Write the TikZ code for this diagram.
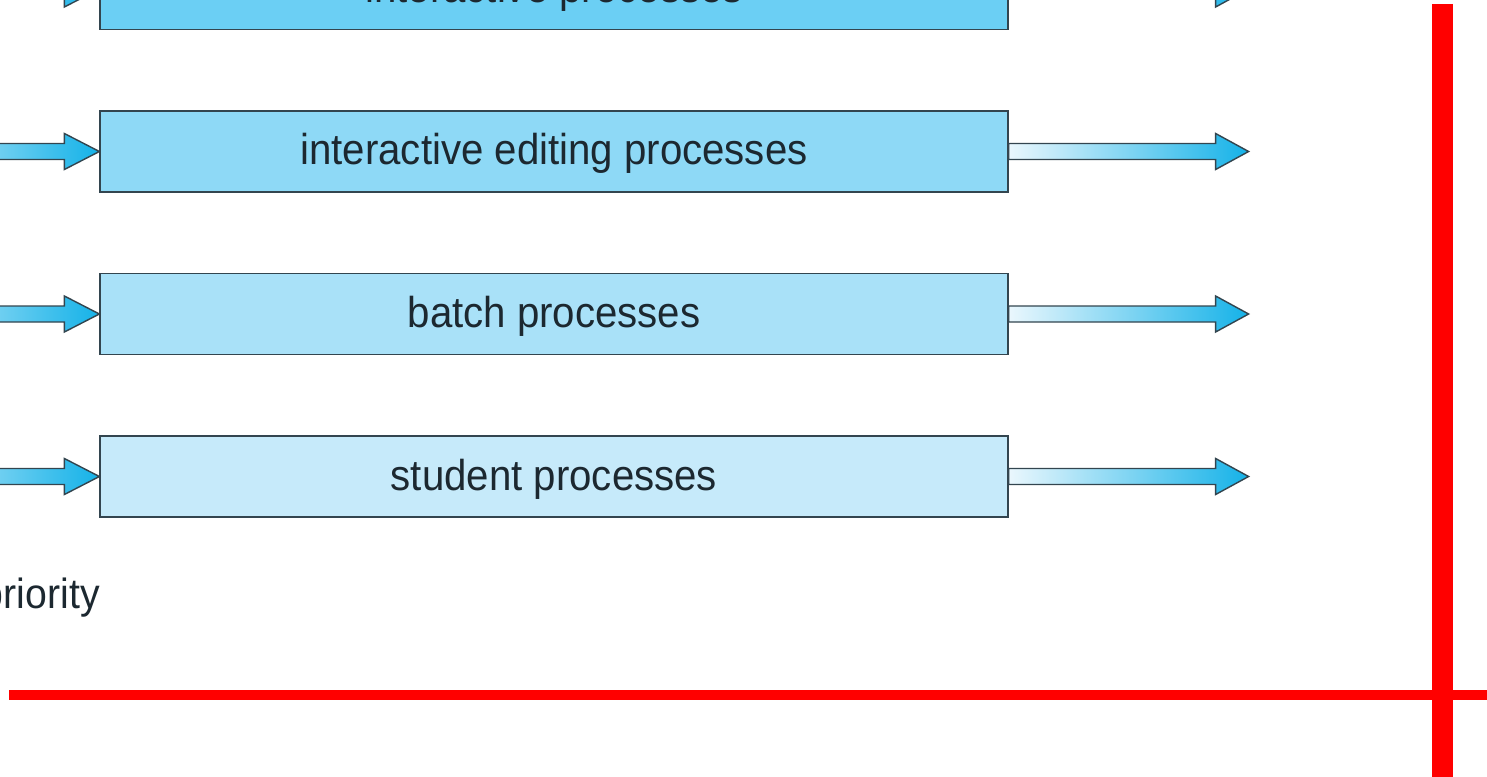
\documentclass[tikz,border=0pt]{standalone}
\usepackage{fontspec}
\setmainfont[FakeStretch=0.93]{Liberation Sans}
\usepackage{tikz}
\usetikzlibrary{calc}
\definecolor{qone}{HTML}{6BCFF4}
\definecolor{qtwo}{HTML}{8ED9F6}
\definecolor{qthree}{HTML}{A9E1F8}
\definecolor{qfour}{HTML}{C6EAFA}
\definecolor{boxline}{HTML}{33454F}
\definecolor{txt}{HTML}{1C2830}
\definecolor{arrlight}{HTML}{EAF7FD}
\definecolor{arrblue}{HTML}{15B2E8}
\tikzstyle{queue} = [rectangle, draw=boxline, line width=0.8pt, minimum width=18.16cm, minimum height=1.62cm, text height=0.7cm, text depth=0.16cm, text centered, text=txt, font=\fontsize{24.6}{28}\selectfont]
\tikzstyle{flow} = [left color=arrlight, right color=arrblue, draw=boxline, line width=0.8pt]
% block arrows into and out of a queue
\newcommand{\queuein}[1]{%
  \shade[flow] (#1.west) -- ++(-35,-18) -- ++(0,10) -- ++(-205,0) -- ++(0,16) -- ++(205,0) -- ++(0,10) -- cycle;}
\newcommand{\queueout}[1]{%
  \shade[flow] ($(#1.east)+(0,-8)$) -- ++(207,0) -- ++(0,-10) -- ++(33,18) -- ++(-33,18) -- ++(0,-10) -- ++(-207,0) -- cycle;}

\begin{document}
\begin{tikzpicture}[x=0.02cm,y=-0.02cm]
    \useasboundingbox (0,0) rectangle (1487,777);
    \node [queue, fill=qone] (inter) at (554,-11) {interactive processes};
    \node [queue, fill=qtwo] (edit) at (554,151.5) {interactive editing processes};
    \node [queue, fill=qthree] (batch) at (554,314) {batch processes};
    \node [queue, fill=qfour] (student) at (554,476.5) {student processes};
    \node [anchor=base east, inner sep=0pt, text=txt, font=\fontsize{24}{28}\selectfont] (prio) at (100,608) {priority};
    \foreach \q in {inter,edit,batch,student} {
        \queuein{\q}
        \queueout{\q}
    }
    % red marks
    \draw [red, line width=0.42cm] (1442.5,4) -- (1442.5,800);
    \draw [red, line width=0.2cm] (9,695) -- (1510,695);
\end{tikzpicture}
\end{document}
